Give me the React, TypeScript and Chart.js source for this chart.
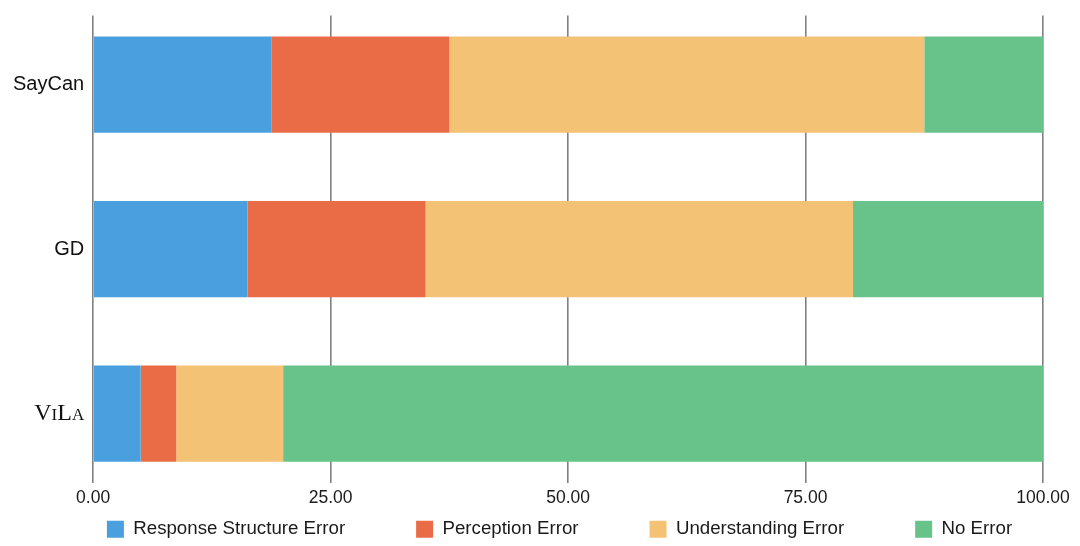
import React, { useEffect, useRef } from "react";
import { Chart, registerables } from "chart.js";

Chart.register(...registerables);

const categories = ["SayCan", "GD", "ViLa"];
const seriesNames = ["Response Structure Error", "Perception Error", "Understanding Error", "No Error"];
const responseStructure = [18.75, 16.25, 5];
const perception = [18.75, 18.75, 3.75];
const understanding = [50, 45, 11.25];
const noError = [12.5, 20, 80];
const xTickValues = [0, 25, 50, 75, 100];
const seriesColors = ["#4AA0DE", "#EA6C47", "#F4C274", "#67C38A"];

const SANS = "'Liberation Sans', Arial, sans-serif";
const SERIF = "'Liberation Serif', 'Times New Roman', serif";

const legendPlacer = {
  id: "legendPlacer",
  afterLayout(chart: any) {
    const lg = chart.legend;
    if (!lg || !lg.lineWidths) return;
    const pad = lg.options.labels.padding;
    const boxH = lg.options.labels.boxHeight;
    const targetBoxTop = chart.chartArea.bottom + 57;
    lg.top = targetBoxTop - pad;
    lg.bottom = targetBoxTop + boxH + 6;
    lg.height = lg.bottom - lg.top;
    const rowWidth = lg.lineWidths[0] - pad;
    const targetCenter = 559.5;
    const curStart = (lg.left + pad + lg.right - lg.lineWidths[0]) / 2;
    const dx = targetCenter - rowWidth / 2 - curStart;
    lg.left += dx;
    lg.right += dx;
  },
};

export default function App() {
  const ref = useRef<HTMLCanvasElement | null>(null);

  useEffect(() => {
    if (!ref.current) return;
    const series = [responseStructure, perception, understanding, noError];
    const chart = new Chart(ref.current, {
      type: "bar",
      data: {
        datasets: series.map((vals, si) => ({
          label: seriesNames[si],
          data: vals.map((v, i) => ({ x: v, y: i })),
          backgroundColor: seriesColors[si],
          borderWidth: 0,
          categoryPercentage: 1,
          barPercentage: 0.585,
        })),
      },
      plugins: [legendPlacer],
      options: {
        indexAxis: "y",
        animation: false,
        responsive: true,
        maintainAspectRatio: false,
        layout: { padding: { left: 4, right: 0, top: 0, bottom: -4 } },
        scales: {
          x: {
            type: "linear",
            stacked: true,
            min: 0,
            max: 100,
            afterBuildTicks: (scale: any) => {
              scale.ticks = xTickValues.map((v) => ({ value: v }));
            },
            afterFit: (scale: any) => {
              scale.paddingRight = 37;
            },
            ticks: {
              callback: (v: any) => Number(v).toFixed(2),
              color: "#1a1a1a",
              font: { family: SANS, size: 17.5 },
              padding: 5,
              maxRotation: 0,
            },
            grid: {
              color: "#808080",
              lineWidth: 1.6,
              tickLength: 20,
              drawTicks: true,
            },
            border: { display: false },
          },
          y: {
            type: "linear",
            stacked: true,
            reverse: true,
            offset: false,
            min: -0.42,
            max: 2.3,
            afterBuildTicks: (scale: any) => {
              scale.ticks = categories.map((_, i) => ({ value: i }));
            },
            ticks: {
              callback: (v: any) => categories[Number(v)] ?? "",
              color: "#111",
              padding: 9,
              font: (ctx: any) =>
                ctx.index === 2
                  ? { family: SERIF, size: 24, weight: "small-caps" as any, lineHeight: 0.55 }
                  : { family: SANS, size: 20, lineHeight: 0.55 },
            },
            grid: { display: false, drawTicks: false, offset: false },
            border: { display: false },
          },
        },
        plugins: {
          legend: {
            position: "bottom",
            maxHeight: 36,
            labels: {
              boxWidth: 17,
              boxHeight: 17,
              padding: 71,
              color: "#1a1a1a",
              font: { family: SANS, size: 18.7 },
            },
          },
          tooltip: { enabled: false },
        },
      },
    });
    return () => chart.destroy();
  }, []);

  return (
    <div style={{ position: "fixed", left: 0, top: 0, width: 1080, height: 546, background: "#fff" }}>
      <canvas ref={ref} />
    </div>
  );
}
